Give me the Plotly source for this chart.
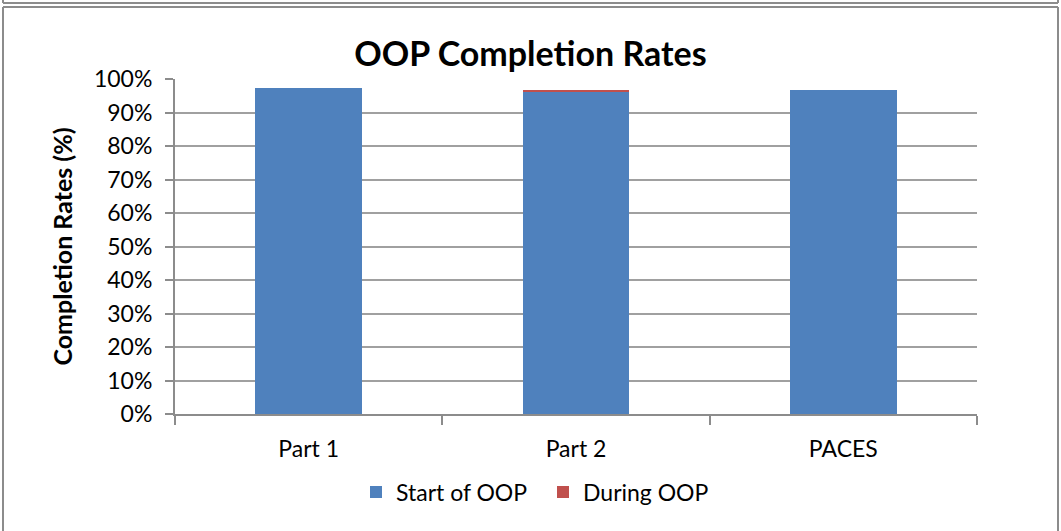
import plotly.graph_objects as go

categories = ["Part 1", "Part 2", "PACES"]
start_of_oop = [97.2, 96.4, 96.6]
during_oop = [0.0, 0.35, 0.0]
y_ticks = [0, 10, 20, 30, 40, 50, 60, 70, 80, 90, 100]
y_tick_labels = [f"{v}%" for v in y_ticks]

FONT = "Lato, 'Open Sans', sans-serif"

fig = go.Figure()
fig.add_trace(go.Bar(x=categories, y=start_of_oop, name="Start of OOP",
                     marker=dict(color="#4F81BD", line=dict(width=0))))
fig.add_trace(go.Bar(x=categories, y=during_oop, name="During OOP",
                     marker=dict(color="#C0504D", line=dict(width=0))))

L, R, T, B = 175, 977, 79, 414
W, H = 1061, 531

def px(x):
    return (x - L) / (R - L)

def py(y):
    return (B - y) / (B - T)

shapes = []
line = dict(color="#8C8C8C", width=2)
# outer frame
shapes.append(dict(type="line", xref="paper", yref="paper", x0=px(3), x1=px(1058), y0=py(7), y1=py(7), line=line))
shapes.append(dict(type="line", xref="paper", yref="paper", x0=px(3), x1=px(3), y0=py(7), y1=py(540), line=line))
shapes.append(dict(type="line", xref="paper", yref="paper", x0=px(1058), x1=px(1058), y0=py(7), y1=py(540), line=line))
# bottom edge of the box above
shapes.append(dict(type="line", xref="paper", yref="paper", x0=px(3), x1=px(1058), y0=py(3), y1=py(3), line=line))
shapes.append(dict(type="line", xref="paper", yref="paper", x0=px(1058), x1=px(1058), y0=py(3), y1=py(-5), line=line))
shapes.append(dict(type="line", xref="paper", yref="paper", x0=px(3), x1=px(3), y0=py(3), y1=py(-5), line=line))

fig.update_layout(
    barmode="stack",
    bargap=0.6,
    width=W, height=H,
    margin=dict(l=L, r=W - R, t=T, b=H - B, pad=0),
    paper_bgcolor="white", plot_bgcolor="white",
    font=dict(family=FONT, size=22, color="black"),
    title=dict(text="<b>OOP Completion Rates</b>", x=0.5, xanchor="center",
               y=1 - 54 / H, yanchor="middle", xref="container",
               font=dict(family=FONT, size=34, color="black")),
    showlegend=True,
    legend=dict(orientation="h", x=px(543), xanchor="center", y=py(492), yanchor="middle",
                font=dict(family=FONT, size=23), traceorder="normal",
                itemwidth=30, itemsizing="constant",
                entrywidth=142, entrywidthmode="pixels"),
    shapes=shapes,
)
fig.update_xaxes(
    showgrid=False, showline=True, linecolor="#8C8C8C", linewidth=2,
    ticks="outside", tickson="boundaries", ticklen=9, tickcolor="#8C8C8C", tickwidth=2,
    tickfont=dict(family=FONT, size=23), fixedrange=True, ticklabelstandoff=13,
)
fig.update_yaxes(
    range=[0, 100], tickvals=y_ticks, ticktext=y_tick_labels,
    showgrid=True, gridcolor="#A0A0A0", gridwidth=2,
    showline=True, linecolor="#8C8C8C", linewidth=2,
    ticks="outside", ticklen=8, tickcolor="#8C8C8C", tickwidth=2,
    tickfont=dict(family=FONT, size=23), zeroline=False, ticklabelstandoff=8,
    title=dict(text="<b>Completion Rates (%)</b>", font=dict(family=FONT, size=25), standoff=14),
)

fig.write_html("out.html", config={"displayModeBar": False},
               post_script="document.body.style.margin='0';")
